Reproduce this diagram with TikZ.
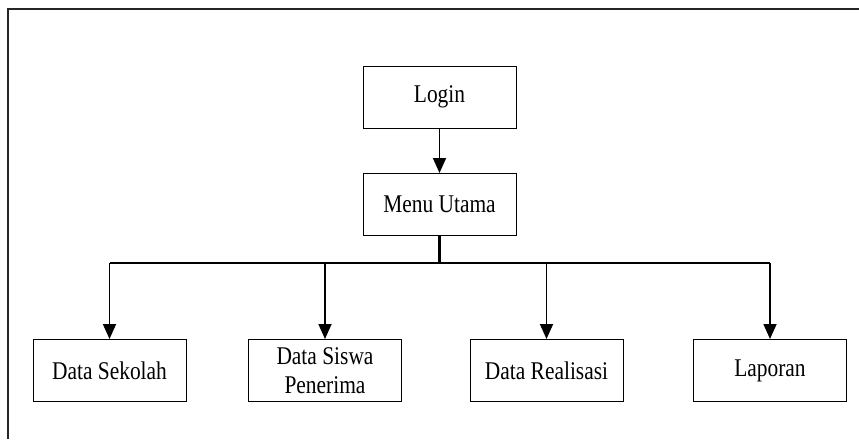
\documentclass[tikz,border=0pt]{standalone}
\usepackage{fontspec}
\setmainfont{Liberation Serif}
\newfontfamily\condfont[FakeStretch=0.84]{Liberation Serif}
\usetikzlibrary{arrows.meta}
\begin{document}
\begin{tikzpicture}[x=1pt,y=-1pt,
  box/.style={draw, line width=1pt, minimum width=153pt, minimum height=62pt, inner sep=0pt,
    align=center, font=\condfont\fontsize{25.5}{29.5}\selectfont},
  arr/.style={line width=1.7pt, -{Triangle[length=15pt,width=13pt]}},
  bus/.style={line width=2.2pt}]
\useasboundingbox (0,0) rectangle (859,439);
\draw[line width=1.5pt, black!85] (8,439) -- (8,9) -- (859,9);
\node[box] (login) at (439.5,97) {Login};
\node[box] (menu) at (439.5,204.5) {Menu Utama};
\node[box] (sek) at (109.5,370.5) {Data Sekolah};
\node[box] (sis) at (325,370.5) {Data Siswa\\Penerima};
\node[box] (rea) at (546.5,370.5) {Data Realisasi};
\node[box] (lap) at (770,370.5) {Laporan};
\coordinate (j) at (439.5,263);
\coordinate (jl) at (109.5,263);
\coordinate (jr) at (770,263);
\draw[arr] (login) -- (menu);
\draw[bus] (menu.south) -- (j);
\draw[bus] (jl) -- (jr);
\draw[arr] (jl) -- (sek.north);
\draw[arr] (sis.north |- j) -- (sis.north);
\draw[arr] (rea.north |- j) -- (rea.north);
\draw[arr] (jr) -- (lap.north);
\end{tikzpicture}
\end{document}
